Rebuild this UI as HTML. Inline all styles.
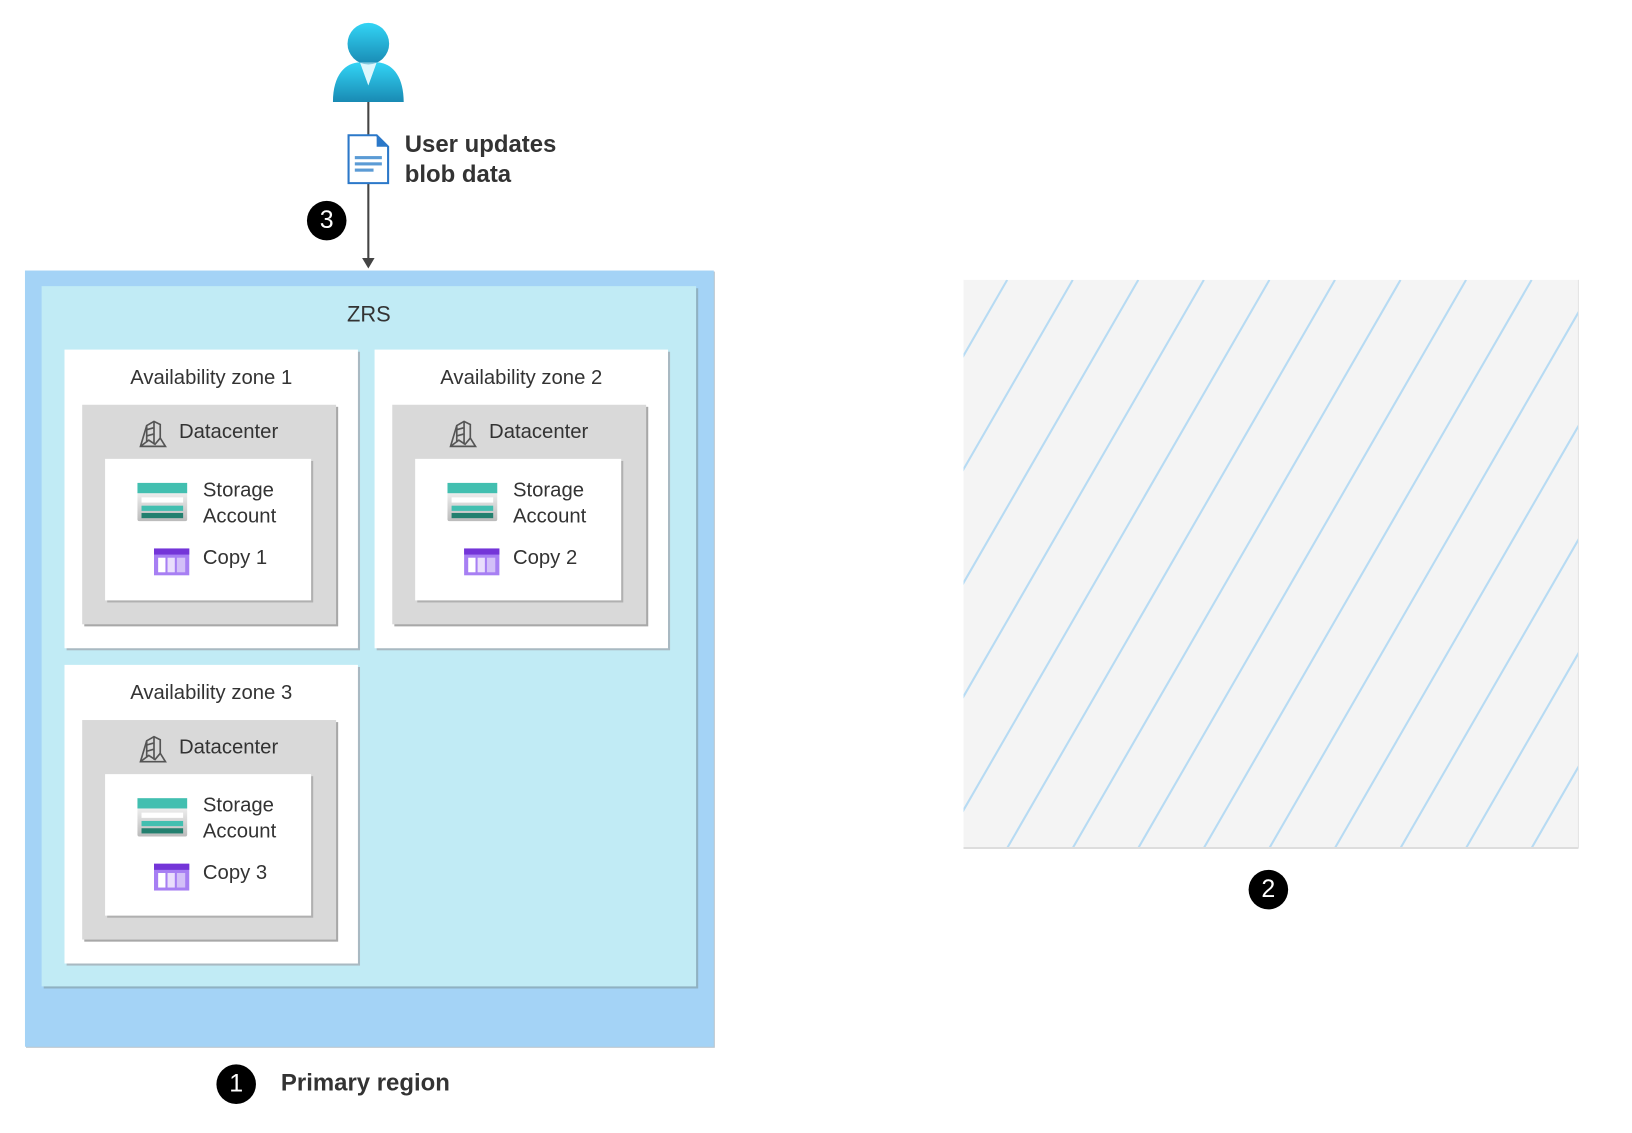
<!DOCTYPE html>
<html><head><meta charset="utf-8"><style>
html,body{margin:0;padding:0;background:#fff;width:1632px;height:1133px;overflow:hidden}
#w{position:absolute;left:0;top:0;width:1560px;height:1083px;transform:scale(1.0405);transform-origin:0 0;font-family:"Segoe UI","Liberation Sans",sans-serif;color:#333}
.a{position:absolute}
.badge{position:absolute;width:38px;height:38px;border-radius:50%;background:#000;color:#fff;font:24px "Liberation Sans",sans-serif;text-align:center;line-height:38px}
.az{position:absolute;width:282px;height:287px;background:#fff;box-shadow:2px 2px 0 #a9b9c2}
.az .t{position:absolute;left:0;right:0;top:16px;text-align:center;font-size:19.5px}
.dc{position:absolute;left:17px;top:53px;width:244px;height:211px;background:#d9d9d9;box-shadow:2px 2px 0 #a8a8a8}
.dc .l{position:absolute;left:93px;top:15px;font-size:19.5px}
.in{position:absolute;left:22px;top:52px;width:198px;height:136px;background:#fff;box-shadow:2px 2px 0 #b0b0b0}
.in .s{position:absolute;left:94px;top:18px;font-size:19.5px;line-height:25px}
.in .c{position:absolute;left:94px;top:84px;font-size:19.5px}
</style></head><body><div id="w">
<svg class="a" style="left:0;top:0" width="1560" height="1083">
<defs>
<linearGradient id="pg" x1="0" y1="0" x2="0" y2="1"><stop offset="0" stop-color="#32d4f5"/><stop offset="1" stop-color="#198ab3"/></linearGradient>
<clipPath id="hc"><rect x="926" y="269" width="591" height="546"/></clipPath>
</defs>
<line x1="354" y1="96" x2="354" y2="250" stroke="#444" stroke-width="2"/>
<polygon points="348,248 360,248 354,258" fill="#444"/>
<circle cx="354" cy="42" r="20" fill="url(#pg)"/>
<path d="M320,98 C320,72 332,60 346,60 L354,82 L362,60 C376,60 388,72 388,98 Z" fill="url(#pg)"/>
<path d="M346,60 L354,82 L362,60 Z" fill="#c8f2fb" opacity=".6"/>
<path d="M335,130 L362,130 L373,141 L373,176 L335,176 Z" fill="#fff" stroke="#2b78c9" stroke-width="2"/>
<path d="M362,130 L373,141 L362,141 Z" fill="#2b78c9"/>
<rect x="341" y="150" width="26" height="3" fill="#5b9bd5"/><rect x="341" y="156" width="26" height="3" fill="#5b9bd5"/><rect x="341" y="162" width="18" height="3" fill="#5b9bd5"/>
<rect x="926" y="269" width="591" height="546" fill="#f4f4f4"/>
<g clip-path="url(#hc)" stroke="#b7dbf3" stroke-width="2">
<line x1="905" y1="269" x2="590" y2="815"/><line x1="968" y1="269" x2="653" y2="815"/><line x1="1031" y1="269" x2="716" y2="815"/><line x1="1094" y1="269" x2="779" y2="815"/><line x1="1157" y1="269" x2="842" y2="815"/><line x1="1220" y1="269" x2="905" y2="815"/><line x1="1283" y1="269" x2="968" y2="815"/><line x1="1346" y1="269" x2="1031" y2="815"/><line x1="1409" y1="269" x2="1094" y2="815"/><line x1="1472" y1="269" x2="1157" y2="815"/><line x1="1535" y1="269" x2="1220" y2="815"/><line x1="1598" y1="269" x2="1283" y2="815"/><line x1="1661" y1="269" x2="1346" y2="815"/><line x1="1724" y1="269" x2="1409" y2="815"/><line x1="1787" y1="269" x2="1472" y2="815"/><line x1="1850" y1="269" x2="1535" y2="815"/>
</g>
<line x1="926" y1="815" x2="1517" y2="815" stroke="#ddd" stroke-width="2"/>
<line x1="1517" y1="269" x2="1517" y2="815" stroke="#e4e4e4" stroke-width="1"/>
</svg>
<div class="a" style="left:389px;top:124px;font-weight:bold;font-size:23px;line-height:29px;color:#333">User updates<br>blob data</div>
<div class="badge" style="left:295px;top:193px">3</div>
<div class="a" style="left:24px;top:260px;width:662px;height:746px;background:#a4d3f6;box-shadow:1px 1px 0 #b8c4cc"></div>
<div class="a" style="left:40px;top:275px;width:629px;height:673px;background:#c1ebf5;box-shadow:2px 2px 0 #8fb1c2"></div>
<div class="a" style="left:40px;top:291px;width:629px;text-align:center;font-size:21px">ZRS</div>

<div class="az" style="left:62px;top:336px"><div class="t">Availability zone 1</div><div class="dc"><svg class="a" style="left:54px;top:10px" width="30" height="32"><g fill="none" stroke="#555" stroke-width="1.6"><path d="M8,10 L15,6 L21,9 L21,22 L26,30 L2,30 Z"/><path d="M8,10 L8,26 M15,6 L15,28 M8,14 L15,12 M8,20 L15,18"/><path d="M2,30 L10,24 L16,28 L21,22"/></g></svg><div class="l">Datacenter</div><div class="in">
<svg class="a" style="left:31px;top:23px" width="48" height="37"><defs><linearGradient id="sg" x1="0" y1="0" x2="0" y2="1"><stop offset="0" stop-color="#fff"/><stop offset="1" stop-color="#bbb"/></linearGradient></defs><rect x="0" y="0" width="48" height="37" rx="2" fill="url(#sg)"/><rect x="0" y="0" width="48" height="10" fill="#42bfb0"/><rect x="4" y="14" width="40" height="5" fill="#fff"/><rect x="4" y="22" width="40" height="5" fill="#42bfb0"/><rect x="4" y="29" width="40" height="5" fill="#23806f"/></svg>
<div class="s">Storage<br>Account</div>
<svg class="a" style="left:47px;top:86px" width="34" height="26"><rect width="34" height="26" fill="#a77ff3"/><rect width="34" height="6" fill="#7435d8"/><rect x="4" y="9" width="7" height="14" fill="#fff"/><rect x="13" y="9" width="7" height="14" fill="#e9defc"/><rect x="22" y="9" width="8" height="14" fill="#d3c0f8"/></svg>
<div class="c">Copy 1</div></div></div></div>

<div class="az" style="left:360px;top:336px"><div class="t">Availability zone 2</div><div class="dc"><svg class="a" style="left:54px;top:10px" width="30" height="32"><g fill="none" stroke="#555" stroke-width="1.6"><path d="M8,10 L15,6 L21,9 L21,22 L26,30 L2,30 Z"/><path d="M8,10 L8,26 M15,6 L15,28 M8,14 L15,12 M8,20 L15,18"/><path d="M2,30 L10,24 L16,28 L21,22"/></g></svg><div class="l">Datacenter</div><div class="in">
<svg class="a" style="left:31px;top:23px" width="48" height="37"><rect x="0" y="0" width="48" height="37" rx="2" fill="url(#sg)"/><rect x="0" y="0" width="48" height="10" fill="#42bfb0"/><rect x="4" y="14" width="40" height="5" fill="#fff"/><rect x="4" y="22" width="40" height="5" fill="#42bfb0"/><rect x="4" y="29" width="40" height="5" fill="#23806f"/></svg>
<div class="s">Storage<br>Account</div>
<svg class="a" style="left:47px;top:86px" width="34" height="26"><rect width="34" height="26" fill="#a77ff3"/><rect width="34" height="6" fill="#7435d8"/><rect x="4" y="9" width="7" height="14" fill="#fff"/><rect x="13" y="9" width="7" height="14" fill="#e9defc"/><rect x="22" y="9" width="8" height="14" fill="#d3c0f8"/></svg>
<div class="c">Copy 2</div></div></div></div>

<div class="az" style="left:62px;top:639px"><div class="t">Availability zone 3</div><div class="dc"><svg class="a" style="left:54px;top:10px" width="30" height="32"><g fill="none" stroke="#555" stroke-width="1.6"><path d="M8,10 L15,6 L21,9 L21,22 L26,30 L2,30 Z"/><path d="M8,10 L8,26 M15,6 L15,28 M8,14 L15,12 M8,20 L15,18"/><path d="M2,30 L10,24 L16,28 L21,22"/></g></svg><div class="l">Datacenter</div><div class="in">
<svg class="a" style="left:31px;top:23px" width="48" height="37"><rect x="0" y="0" width="48" height="37" rx="2" fill="url(#sg)"/><rect x="0" y="0" width="48" height="10" fill="#42bfb0"/><rect x="4" y="14" width="40" height="5" fill="#fff"/><rect x="4" y="22" width="40" height="5" fill="#42bfb0"/><rect x="4" y="29" width="40" height="5" fill="#23806f"/></svg>
<div class="s">Storage<br>Account</div>
<svg class="a" style="left:47px;top:86px" width="34" height="26"><rect width="34" height="26" fill="#a77ff3"/><rect width="34" height="6" fill="#7435d8"/><rect x="4" y="9" width="7" height="14" fill="#fff"/><rect x="13" y="9" width="7" height="14" fill="#e9defc"/><rect x="22" y="9" width="8" height="14" fill="#d3c0f8"/></svg>
<div class="c">Copy 3</div></div></div></div>

<div class="badge" style="left:1200px;top:836px">2</div>
<div class="badge" style="left:208px;top:1023px">1</div>
<div class="a" style="left:270px;top:1027px;font-weight:bold;font-size:23px;color:#333">Primary region</div>
</div></body></html>
